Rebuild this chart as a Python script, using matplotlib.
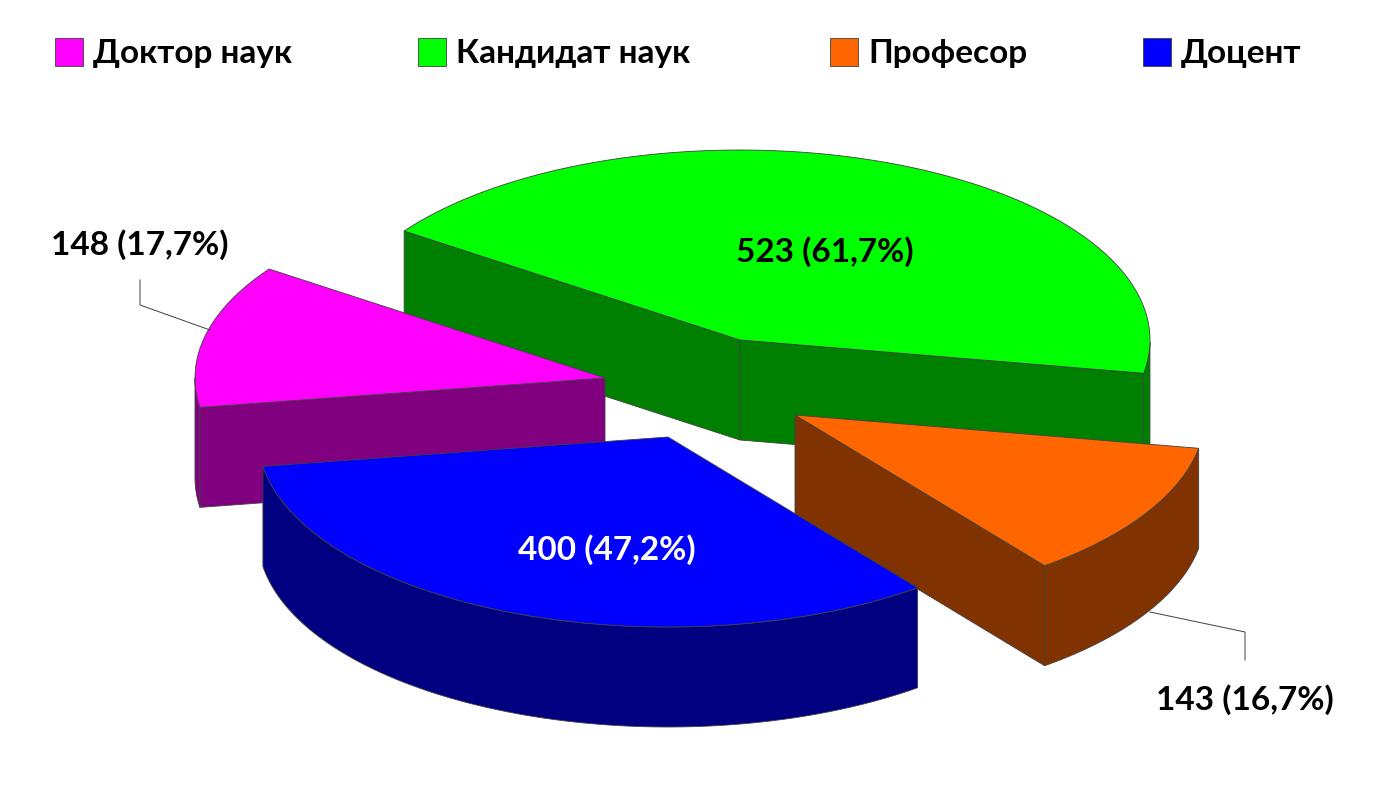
import numpy as np
import matplotlib.pyplot as plt
from matplotlib.patches import Polygon, Rectangle

categories = ['Доктор наук', 'Кандидат наук', 'Професор', 'Доцент']
values = [148, 523, 143, 400]
value_labels = ['148 (17,7%)', '523 (61,7%)', '143 (16,7%)', '400 (47,2%)']
top_colors = ['#FF00FF', '#00FF00', '#FF6600', '#0000FF']
side_colors = ['#800080', '#008000', '#803300', '#000080']

# layout (pixels)
A, B, DEPTH = 410, 190, 100
START = 145.0  # green slice starts here, slices run clockwise
order = [1, 2, 3, 0]  # green, orange, blue, magenta
apex = {1: (740, 340), 2: (795, 415), 3: (668, 437), 0: (605, 378)}
label_pos = {1: (825, 252), 3: (607, 550), 0: (140, 245), 2: (1245, 700)}
label_col = {1: 'black', 3: 'white', 0: 'black', 2: 'black'}

plt.rcParams['font.family'] = ['Lato', 'DejaVu Sans']
fig = plt.figure(figsize=(13.83, 8.07), dpi=100)
ax = fig.add_axes([0, 0, 1, 1])
ax.set_xlim(0, 1383)
ax.set_ylim(807, 0)
ax.axis('off')

total = sum(values)
angles = {}
t = START
for i in order:
    span = 360.0 * values[i] / total
    angles[i] = (t, t - span)
    t -= span


def pt(c, deg, dz=0):
    r = np.radians(deg)
    return (c[0] + A * np.cos(r), c[1] - B * np.sin(r) + dz)


ec = dict(edgecolor='#404040', linewidth=0.6)
for i in sorted(order, key=lambda k: apex[k][1]):
    c = apex[i]
    ts, te = angles[i]
    # radial walls facing the viewer
    for ang, vis in ((ts, np.cos(np.radians(ts)) < 0), (te, np.cos(np.radians(te)) > 0)):
        if vis:
            p = pt(c, ang)
            ax.add_patch(Polygon([c, p, (p[0], p[1] + DEPTH), (c[0], c[1] + DEPTH)],
                                 facecolor=side_colors[i], **ec))
    # outer wall (front part)
    ts_ = np.linspace(ts, te, 200)
    front = [a for a in ts_ if np.sin(np.radians(a)) < 0]
    if front:
        up = [pt(c, a) for a in front]
        down = [pt(c, a, DEPTH) for a in front[::-1]]
        ax.add_patch(Polygon(up + down, facecolor=side_colors[i], **ec))
    ax.add_patch(Polygon([c] + [pt(c, a) for a in ts_], facecolor=top_colors[i], **ec))

for i in order:
    x, y = label_pos[i]
    ax.text(x, y, value_labels[i], fontsize=24, fontweight='bold', color=label_col[i],
            ha='center', va='center')

ax.plot([140, 140, 210], [280, 305, 330], color='#404040', lw=0.7)
ax.plot([1150, 1245, 1245], [612, 632, 660], color='#404040', lw=0.7)

leg_x = [55, 418, 830, 1143]
for i, x in enumerate(leg_x):
    ax.add_patch(Rectangle((x, 38), 28, 28, facecolor=top_colors[i], edgecolor='#404040', lw=0.6))
    ax.text(x + 38, 53, categories[i], fontsize=24, fontweight='bold', va='center', ha='left')

fig.savefig('out.png', dpi=100)
